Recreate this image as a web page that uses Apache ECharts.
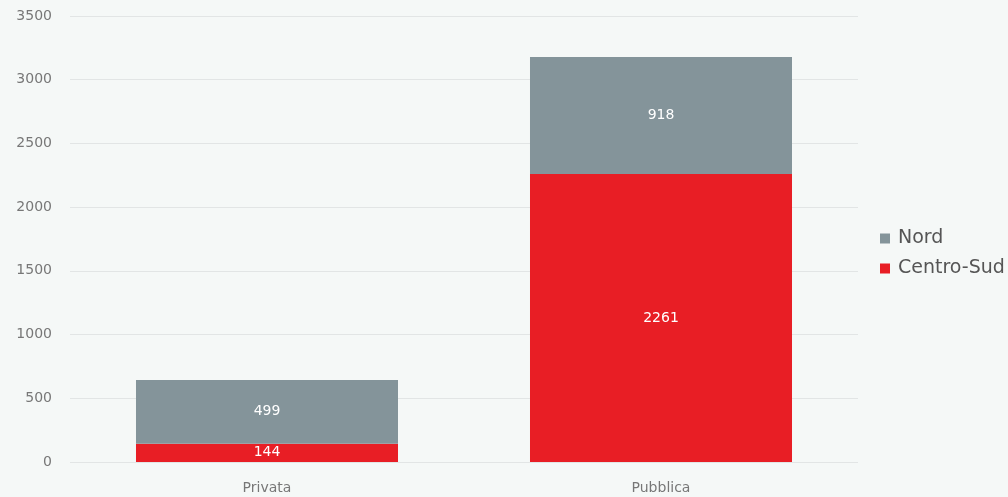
<!DOCTYPE html>
<html>
<head>
<meta charset="utf-8">
<script src="https://cdn.jsdelivr.net/npm/echarts@6/dist/echarts.min.js"></script>
<style>
  html, body { margin: 0; padding: 0; background: #f5f8f7; }
  #main { width: 1008px; height: 497px; }
</style>
</head>
<body>
<div id="main"></div>
<script>
// dati
const categories = ['Privata', 'Pubblica'];
const centroSud = [144, 2261];
const nord = [499, 918];

const chart = echarts.init(document.getElementById('main'));

const labelStyle = {
  show: true,
  position: 'inside',
  color: '#fff',
  fontSize: 14,
  fontFamily: 'DejaVu Sans'
};

chart.setOption({
  backgroundColor: '#f5f8f7',
  textStyle: { fontFamily: 'DejaVu Sans' },
  grid: { left: 70, right: 150, top: 16, bottom: 35 },
  legend: {
    orient: 'vertical',
    left: 875,
    top: 224,
    itemWidth: 10,
    itemHeight: 10,
    itemGap: 11,
    icon: 'rect',
    data: ['Nord', 'Centro-Sud'],
    textStyle: { fontSize: 19, color: '#555', padding: [0, 0, 0, 3] }
  },
  xAxis: {
    type: 'category',
    data: categories,
    axisLine: { show: false },
    axisTick: { show: false },
    axisLabel: { color: '#777', fontSize: 14, margin: 19 }
  },
  yAxis: {
    type: 'value',
    min: 0,
    max: 3500,
    interval: 500,
    axisLine: { show: false },
    axisTick: { show: false },
    axisLabel: { color: '#777', fontSize: 14, margin: 18, formatter: v => String(v) },
    splitLine: { lineStyle: { color: '#e2e5e5' } }
  },
  series: [
    {
      name: 'Centro-Sud',
      type: 'bar',
      stack: 'tot',
      barWidth: '66.5%',
      data: centroSud,
      itemStyle: { color: '#e81e25' },
      label: labelStyle
    },
    {
      name: 'Nord',
      type: 'bar',
      stack: 'tot',
      barWidth: '66.5%',
      data: nord,
      itemStyle: { color: '#84949a' },
      label: labelStyle
    }
  ]
});
</script>
</body>
</html>
